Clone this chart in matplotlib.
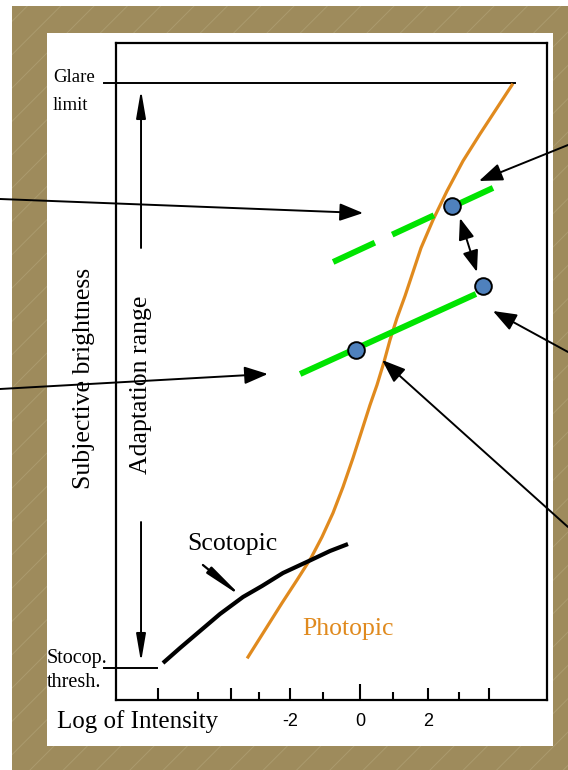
import matplotlib
matplotlib.use("Agg")
import matplotlib.pyplot as plt
from matplotlib.patches import Rectangle

# ---------------- data (x: log intensity, y: subjective brightness, arbitrary units) -------------
photopic_x = [-3.294, -2.794, -2.294, -1.853, -1.441, -1.118, -0.794, -0.500, -0.206, 0.059,
              0.294, 0.500, 0.706, 0.882, 1.088, 1.324, 1.559, 1.794, 2.147, 2.559, 3.029,
              3.529, 4.029, 4.471]
photopic_y = [6.54, 10.65, 14.76, 18.26, 21.61, 24.81, 28.46, 32.42, 36.83, 41.10,
              44.90, 47.95, 51.45, 54.79, 58.14, 61.49, 65.14, 68.80, 73.06, 77.47, 82.04,
              86.15, 90.11, 93.61]

scotopic_x = [-5.794, -5.294, -4.706, -4.118, -3.441, -2.882, -2.265, -1.441, -0.882, -0.353]
scotopic_y = [5.63, 7.91, 10.50, 13.09, 15.68, 17.35, 19.33, 21.31, 22.68, 23.74]

green_low_x = [-1.76, 3.41]
green_low_y = [49.62, 61.80]
green_up_x = [-0.79, 3.97]
green_up_y = [66.67, 78.08]

dots_x = [2.71, 3.62, -0.12]
dots_y = [75.19, 63.01, 53.27]

glare_y = 93.91
thresh_y = 4.87

major_ticks = [-5.94, -3.79, -2.06, 2.0, 3.79]
zero_tick = [0.0]
minor_ticks = [-4.76, -2.97, -1.09, 0.97, 2.91]
label_ticks = [-2.06, 0.0, 2.0]
tick_labels = ["-2", "0", "2"]

# ---------------- figure ----------------
W, H = 568, 770
fig = plt.figure(figsize=(W / 100, H / 100), dpi=100)
fig.patch.set_facecolor("white")

def fx(px):
    return px / W

def fy(py):
    return 1 - py / H

brown = "#9e8b5c"
plt.rcParams["hatch.linewidth"] = 0.7
fig.patches.append(Rectangle((fx(12), 0), 1 - fx(12), fy(6), transform=fig.transFigure,
                             facecolor=brown, edgecolor="#ab9b6e", lw=0, hatch="/",
                             zorder=-20))
fig.patches.append(Rectangle((fx(47), fy(746)), fx(553) - fx(47), fy(33) - fy(746),
                             transform=fig.transFigure, facecolor="white",
                             edgecolor="none", zorder=-19))

ax = fig.add_axes([fx(116), fy(700), fx(547) - fx(116), fy(43) - fy(700)])
ax.set_xlim(-7.176, 5.5)
ax.set_ylim(0, 100)
for s in ax.spines.values():
    s.set_linewidth(1.6)
    s.set_color("black")

ax.set_xticks(major_ticks)
ax.set_xticks(minor_ticks, minor=True)
ax.set_xticklabels([])
ax.tick_params(axis="x", which="major", direction="in", length=9, width=1.5)
ax.tick_params(axis="x", which="minor", direction="in", length=5.5, width=1.5)
ax.set_yticks([])
sec = ax.secondary_xaxis("bottom")
sec.set_xticks(label_ticks)
sec.set_xticklabels(tick_labels, family="Liberation Sans", fontsize=13)
sec.tick_params(length=0, pad=9)
sec.spines["bottom"].set_visible(False)
sec0 = ax.secondary_xaxis("bottom")
sec0.set_xticks(zero_tick)
sec0.set_xticklabels([])
sec0.tick_params(direction="in", length=11.5, width=1.5)
sec0.spines["bottom"].set_visible(False)

orange = "#e08a1e"
green = "#00e400"
dotc = "#4f81bd"

ax.plot(photopic_x, photopic_y, color=orange, lw=2.3, zorder=3, solid_joinstyle="round")
ax.plot(scotopic_x, scotopic_y, color="black", lw=3.0, zorder=3, solid_capstyle="butt",
        solid_joinstyle="round")

ax.plot(green_low_x, green_low_y, color=green, lw=4.3, solid_capstyle="butt", zorder=4)
ax.plot(green_up_x, green_up_y, color=green, lw=4.3, ls=(0, (7.7, 3.2)),
        dash_capstyle="butt", zorder=4)
ax.plot(dots_x, dots_y, "o", ms=12, mfc=dotc, mec="black", mew=1.4, zorder=6)

# glare limit / threshold lines
ax.plot([-7.53, 4.56], [glare_y, glare_y], color="black", lw=1.4, clip_on=False, zorder=2)
ax.plot([-7.53, -5.97], [thresh_y, thresh_y], color="black", lw=1.4, clip_on=False, zorder=2)

# adaptation range arrows
spear = dict(arrowstyle="-|>,head_length=1.4,head_width=0.24", color="black", lw=1.4,
             mutation_scale=12, shrinkA=0, shrinkB=0)
ax.annotate("", xy=(-6.44, 92.85), xytext=(-6.44, 68.8), arrowprops=spear)
ax.annotate("", xy=(-6.44, 5.78), xytext=(-6.44, 27.09), arrowprops=spear)

# scotopic label arrow
ax.annotate("", xy=(-3.47, 15.68), xytext=(-4.62, 20.55),
            arrowprops=dict(arrowstyle="-|>,head_length=1.9,head_width=0.2", color="black",
                            lw=1.6, mutation_scale=12, shrinkA=0, shrinkB=0))

# double arrow between dots
ax.annotate("", xy=(3.44, 65.14), xytext=(2.94, 73.36),
            arrowprops=dict(arrowstyle="<|-|>,head_length=1.1,head_width=0.4", color="black",
                            lw=1.4, mutation_scale=12, shrinkA=0, shrinkB=0), zorder=5)

# pointer arrows from the figure edges
edge_arrows = [((0.09, 74.12), (0, 199)),
               ((-2.71, 49.62), (0, 389)),
               ((3.50, 79.00), (568, 145)),
               ((3.91, 59.21), (568, 352)),
               ((0.65, 51.75), (568, 527))]
for tip, start in edge_arrows:
    ax.annotate("", xy=tip, xycoords="data", xytext=(start[0], H - start[1]),
                textcoords="figure pixels", annotation_clip=False,
                arrowprops=dict(arrowstyle="-|>,head_length=1.2,head_width=0.45", color="black",
                                lw=1.4, mutation_scale=12, shrinkA=0, shrinkB=0), zorder=7)

serif = ["Liberation Serif", "DejaVu Serif"]
fig.text(fx(53), fy(82), "Glare", family=serif, fontsize=13.5, ha="left", va="baseline")
fig.text(fx(53), fy(110), "limit", family=serif, fontsize=13.5, ha="left", va="baseline")
fig.text(fx(47), fy(663), "Stocop.", family=serif, fontsize=14.5, ha="left", va="baseline")
fig.text(fx(47), fy(687), "thresh.", family=serif, fontsize=14.5, ha="left", va="baseline")
fig.text(fx(57), fy(728), "Log of Intensity", family=serif, fontsize=18, ha="left", va="baseline")
fig.text(fx(187), fy(550), "Scotopic", family=serif, fontsize=18.5, ha="left", va="baseline")
fig.text(fx(302), fy(635), "Photopic", family=serif, fontsize=18.5, ha="left", va="baseline",
         color=orange)
fig.text(fx(84), fy(378), "Subjective brightness", family=serif, fontsize=18.5, rotation=90,
         ha="center", va="center")
fig.text(fx(141), fy(385), "Adaptation range", family=serif, fontsize=18.5, rotation=90,
         ha="center", va="center")

fig.savefig("out.png", dpi=100)
